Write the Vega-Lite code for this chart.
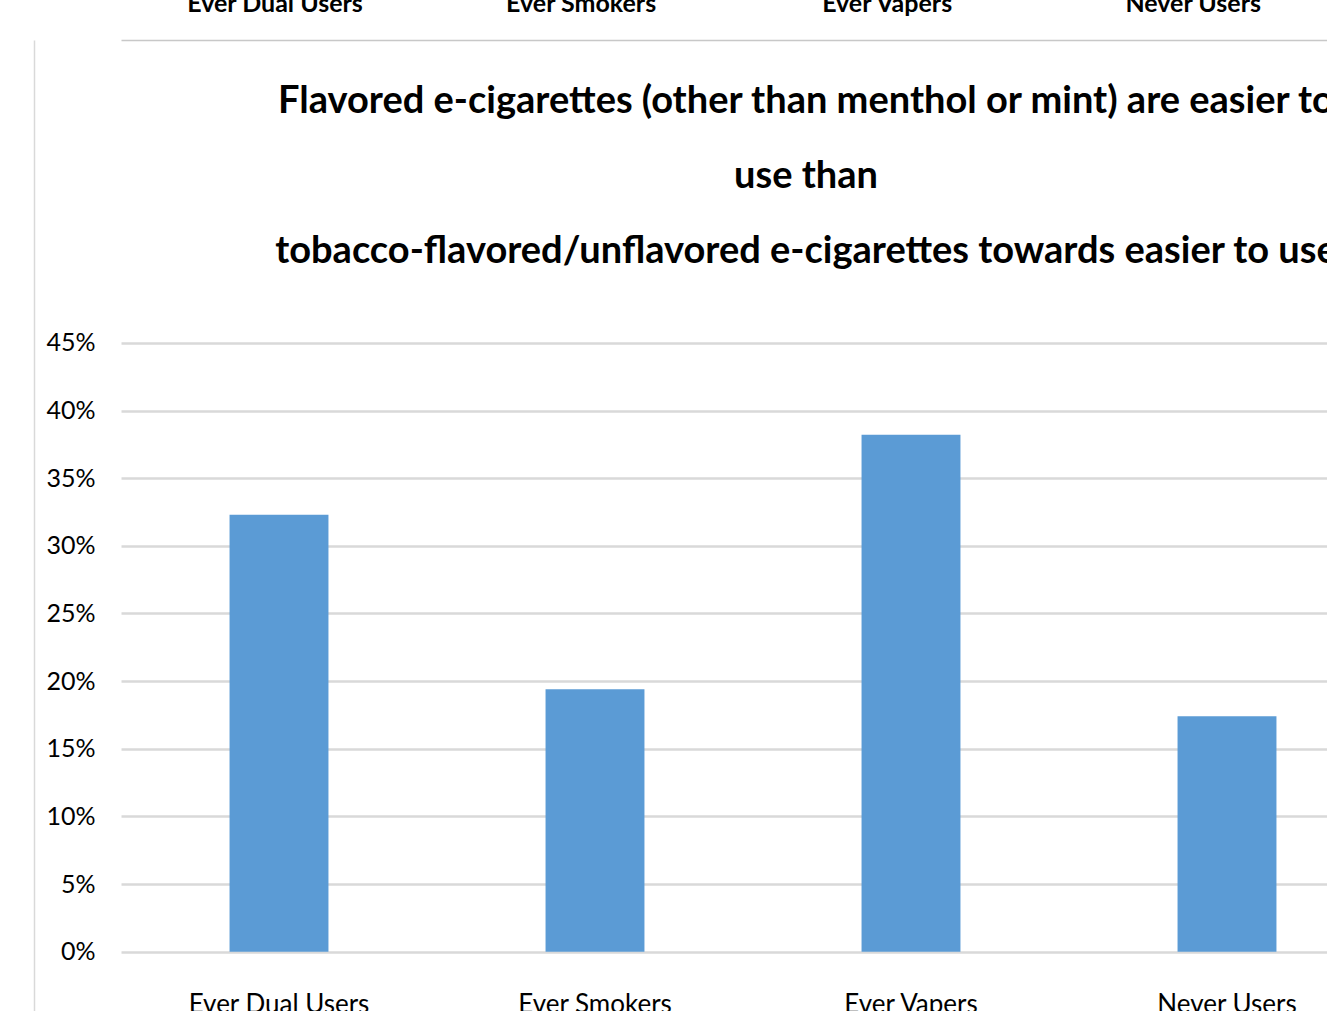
{
  "$schema": "https://vega.github.io/schema/vega-lite/v6.json",
  "autosize": {"type": "none"},
  "padding": {"top": 40, "left": 121, "right": 0, "bottom": 0},
  "background": "white",
  "width": 1264,
  "height": 993,
  "config": {
    "view": {"stroke": null},
    "font": "Lato"
  },
  "title": {
    "text": [
      "Flavored e-cigarettes (other than menthol or mint) are easier to",
      "use than",
      "tobacco-flavored/unflavored e-cigarettes towards easier to use"
    ],
    "font": "Lato",
    "fontWeight": "bold",
    "fontSize": 38,
    "lineHeight": 75,
    "color": "#000000",
    "anchor": "middle",
    "dx": 53,
    "offset": -280
  },
  "data": {
    "values": [
      {"group": "Ever Dual Users", "share": 0.323},
      {"group": "Ever Smokers", "share": 0.194},
      {"group": "Ever Vapers", "share": 0.382},
      {"group": "Never Users", "share": 0.174}
    ]
  },
  "resolve": {"scale": {"x": "independent"}, "axis": {"x": "independent"}},
  "layer": [
    {
      "mark": {"type": "bar", "color": "#5b9bd5"},
      "encoding": {
        "x": {
          "field": "group",
          "type": "nominal",
          "sort": null,
          "scale": {"paddingInner": 0.687, "paddingOuter": 0.3435},
          "axis": {
            "title": null,
            "domain": false,
            "ticks": false,
            "offset": -81,
            "labelAngle": 0,
            "labelPadding": 39,
            "labelFontSize": 26,
            "labelLimit": 0,
            "labelColor": "#000000"
          }
        },
        "y": {
          "field": "share",
          "type": "quantitative",
          "scale": {"domain": [-0.06, 0.6738], "nice": false, "zero": false},
          "axis": {
            "title": null,
            "values": [0, 0.05, 0.1, 0.15, 0.2, 0.25, 0.3, 0.35, 0.4, 0.45],
            "format": ".0%",
            "offset": 87,
            "domain": true,
            "domainColor": "#d9d9d9",
            "domainWidth": 1.5,
            "ticks": false,
            "labelPadding": -61,
            "labelFontSize": 25,
            "labelColor": "#000000",
            "gridColor": "#d9d9d9",
            "gridWidth": 2.5
          }
        }
      }
    },
    {
      "mark": {"type": "point", "opacity": 0},
      "encoding": {
        "x": {
          "field": "group",
          "type": "nominal",
          "sort": null,
          "scale": {"type": "band", "paddingInner": 0, "paddingOuter": 0.065, "align": 0.025},
          "axis": {
            "orient": "top",
            "title": null,
            "domain": true,
            "domainColor": "#c8c8c8",
            "domainWidth": 1.5,
            "ticks": false,
            "labelAngle": 0,
            "labelPadding": 24,
            "labelFontSize": 25,
            "labelFontWeight": "bold",
            "labelLimit": 0,
            "labelColor": "#000000"
          }
        }
      }
    }
  ]
}
